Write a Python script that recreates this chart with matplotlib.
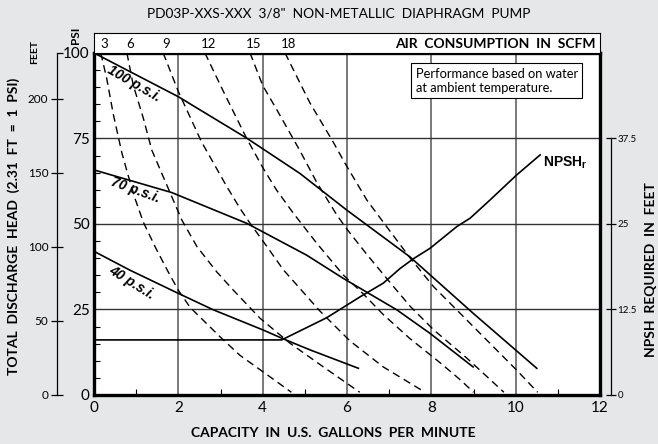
import matplotlib
matplotlib.use('Agg')
import matplotlib.pyplot as plt
from matplotlib.ticker import FixedLocator, MultipleLocator

# capacity (GPM) vs discharge head (PSI)
psi100_x = [0, 2.0, 3.62, 4.88, 5.99, 7.49, 8.99, 10.5]
psi100_y = [100, 87.2, 75.1, 64.8, 54.1, 40.4, 23.9, 7.8]
psi70_x = [0, 1.84, 3.62, 5.04, 5.91, 7.18, 7.97, 8.99]
psi70_y = [65.8, 59.2, 50.2, 40.9, 34.1, 24.9, 18.0, 8.2]
psi40_x = [0, 0.85, 2.0, 2.83, 4.01, 4.49, 5.12, 6.27]
psi40_y = [42.0, 36.5, 29.7, 24.9, 19.0, 16.4, 13.2, 7.8]

# air consumption lines (SCFM)
scfm_labels = ['3', '6', '9', '12', '15', '18']
scfm3_x = [0.16, 0.30, 0.46, 0.66, 0.80, 0.97, 1.17, 1.47, 1.75, 2.0, 2.28, 2.99, 3.46, 4.05, 4.68]
scfm3_y = [100, 92.6, 81.9, 70.8, 64.6, 57.5, 50.5, 42.8, 36.2, 30.6, 25.6, 17.0, 11.6, 6.4, 0.8]
scfm6_x = [0.78, 0.93, 1.17, 1.37, 2.08, 2.44, 2.91, 3.3, 3.94, 4.65, 5.44, 6.3]
scfm6_y = [100, 90.6, 80.9, 71.6, 51.2, 43.4, 36.0, 30.7, 22.4, 15.1, 8.2, 0.8]
scfm9_x = [1.64, 2.0, 2.55, 3.15, 3.46, 3.7, 4.1, 4.49, 5.36, 6.07, 6.86, 7.85]
scfm9_y = [100, 88.7, 74.0, 60.9, 54.6, 50.2, 43.4, 36.6, 24.5, 15.8, 8.2, 0.8]
scfm12_x = [2.63, 3.07, 3.62, 4.01, 4.33, 4.73, 5.04, 5.28, 5.91, 6.39, 6.86, 7.49, 8.2, 8.68, 9.0]
scfm12_y = [100, 88.7, 75.0, 66.3, 59.9, 53.1, 48.2, 44.4, 35.1, 29.5, 23.5, 16.5, 9.5, 4.5, 0.8]
scfm15_x = [3.7, 4.0, 4.33, 4.88, 5.28, 5.76, 5.99, 6.47, 7.02, 7.5, 8.05, 8.84, 9.72]
scfm15_y = [100, 90.5, 83.5, 71.5, 62.2, 52.6, 48.6, 41.1, 32.9, 25.9, 19.1, 10.8, 0.8]
scfm18_x = [4.53, 5.12, 5.67, 5.95, 6.47, 6.94, 7.5, 8.05, 8.6, 9.39, 10.02, 10.52]
scfm18_y = [100, 85.4, 74.0, 67.8, 57.0, 49.2, 40.0, 31.7, 24.9, 15.1, 7.3, 0.8]

# NPSH required (feet)
npsh_x = [0, 4.45, 5.52, 6.31, 6.86, 7.26, 7.57, 7.97, 8.6, 8.92, 9.39, 10.02, 10.58]
npsh_y = [8.05, 8.05, 11.3, 14.35, 16.35, 18.5, 19.9, 21.45, 24.6, 25.85, 28.5, 32.15, 35.1]

psi_ticks = [0, 25, 50, 75, 100]
feet_ticks = [0, 50, 100, 150, 200]
npsh_ticks = [0, 12.5, 25, 37.5]
gpm_ticks = [0, 2, 4, 6, 8, 10, 12]

bg = '#e6e7e8'
font = 'Lato'
plt.rcParams['font.family'] = [font, 'DejaVu Sans']

fig = plt.figure(figsize=(6.58, 4.44), dpi=100, facecolor=bg)
ax = fig.add_axes([0.1429, 0.1104, 0.7690, 0.7703])
ax.set_facecolor('white')
ax.set_xlim(0, 12)
ax.set_ylim(0, 100)

for g in [2, 4, 6, 8, 10]:
    ax.axvline(g, color='#555555', lw=1.1, zorder=1)
for g in [25, 50, 75]:
    ax.axhline(g, color='#333333', lw=1.0, zorder=1)

scfm_x = [scfm3_x, scfm6_x, scfm9_x, scfm12_x, scfm15_x, scfm18_x]
scfm_y = [scfm3_y, scfm6_y, scfm9_y, scfm12_y, scfm15_y, scfm18_y]
for xs, ys in zip(scfm_x, scfm_y):
    ax.plot(xs, ys, color='black', lw=1.0, dashes=(5.5, 3.5), zorder=2)

for xs, ys in [(psi100_x, psi100_y), (psi70_x, psi70_y), (psi40_x, psi40_y)]:
    ax.plot(xs, ys, color='black', lw=1.2, zorder=3)

lbl = dict(fontsize=10, fontweight='bold', fontstyle='italic',
           family=['Liberation Sans', 'DejaVu Sans'], ha='center', va='center')
ax.text(0.95, 91.0, '100 p.s.i.', rotation=-30, **lbl)
ax.text(0.97, 59.8, '70 p.s.i.', rotation=-20, **lbl)
ax.text(0.89, 32.9, '40 p.s.i.', rotation=-32, **lbl)

ax.text(0.636, 0.957, 'Performance based on water\nat ambient temperature.',
        transform=ax.transAxes, fontsize=9.3, va='top', ha='left', linespacing=1.2,
        bbox=dict(boxstyle='square,pad=0.35', fc='white', ec='black', lw=0.8))

for s in ax.spines.values():
    s.set_linewidth(2.4)
ax.set_xticks(gpm_ticks)
ax.xaxis.set_minor_locator(FixedLocator([1, 3, 5, 7, 9, 11]))
ax.set_yticks(psi_ticks)
ax.yaxis.set_minor_locator(MultipleLocator(5))
ax.tick_params(which='major', length=0, labelsize=11, pad=4)
ax.tick_params(axis='y', which='major', pad=3)
ax.tick_params(which='minor', direction='in', length=4, width=0.8)
ax.tick_params(axis='y', which='minor', left=True, right=False)

# NPSH axis on the right
ax2 = ax.twinx()
ax2.set_ylim(0, 50)
ax2.plot(npsh_x, npsh_y, color='black', lw=1.2, zorder=3)
ax2.text(10.64, 34.0, r'NPSH$_\mathregular{r}$', fontsize=10, fontweight='bold',
         family=['Liberation Sans Narrow', 'Liberation Sans', 'DejaVu Sans'],
         ha='left', va='center')
for k in ['top', 'bottom', 'left']:
    ax2.spines[k].set_visible(False)
ax2.spines['right'].set_position(('outward', 8))
ax2.spines['right'].set_bounds(0, 37.5)
ax2.spines['right'].set_linewidth(0.9)
ax2.set_yticks(npsh_ticks)
ax2.set_yticklabels(['0', '12.5', '25', '37.5'])
ax2.tick_params(axis='y', direction='inout', length=7, width=0.9, labelsize=7, pad=1)

# feet axis on the left
ax3 = ax.twinx()
ax3.set_ylim(0, 231)
for k in ['top', 'bottom', 'right']:
    ax3.spines[k].set_visible(False)
ax3.spines['left'].set_visible(True)
ax3.spines['left'].set_position(('outward', 27))
ax3.spines['left'].set_bounds(0, 231)
ax3.spines['left'].set_linewidth(0.9)
ax3.yaxis.set_ticks_position('left')
ax3.yaxis.set_label_position('left')
ax3.set_yticks(feet_ticks)
ax3.yaxis.set_minor_locator(FixedLocator([231]))
ax3.tick_params(axis='y', which='major', direction='inout', length=8, width=0.9,
                labelsize=8.5, pad=2)
ax3.tick_params(axis='y', which='minor', direction='in', length=4, width=0.9)

# air consumption band on top
band = fig.add_axes([0.1429, 0.8806, 0.7690, 0.0450])
band.set_xlim(0, 12)
band.set_ylim(0, 1)
band.set_facecolor('white')
band.set_xticks([])
band.set_yticks([])
for s in band.spines.values():
    s.set_linewidth(0.8)
for xs, t in zip(scfm_x, scfm_labels):
    band.text(xs[0] + 0.08, 0.45, t, fontsize=9.5, ha='center', va='center')
band.text(11.9, 0.45, 'AIR  CONSUMPTION  IN  SCFM', fontsize=10, fontweight='bold',
          ha='right', va='center')

fig.text(339 / 658, 1 - 14 / 444, 'PD03P-XXS-XXX  3/8"  NON-METALLIC  DIAPHRAGM  PUMP',
         fontsize=9.9, ha='center', va='center')
fig.text(333 / 658, 1 - 433 / 444, 'CAPACITY  IN  U.S.  GALLONS  PER  MINUTE',
         fontsize=10, fontweight='bold', ha='center', va='center')
fig.text(14 / 658, 1 - 226 / 444, 'TOTAL  DISCHARGE  HEAD  (2.31  FT  =  1  PSI)',
         fontsize=10, fontweight='bold', rotation=90, ha='center', va='center')
fig.text(651 / 658, 1 - 270 / 444, 'NPSH  REQUIRED  IN  FEET',
         fontsize=10, fontweight='bold', rotation=90, ha='center', va='center')
fig.text(34.5 / 658, 1 - 52 / 444, 'FEET', fontsize=7.5, fontweight='bold',
         rotation=90, ha='center', va='center')
fig.text(76 / 658, 1 - 35 / 444, 'PSI', fontsize=8.5, fontweight='bold',
         rotation=90, ha='center', va='center')

fig.savefig('out.png', dpi=100, facecolor=bg)
